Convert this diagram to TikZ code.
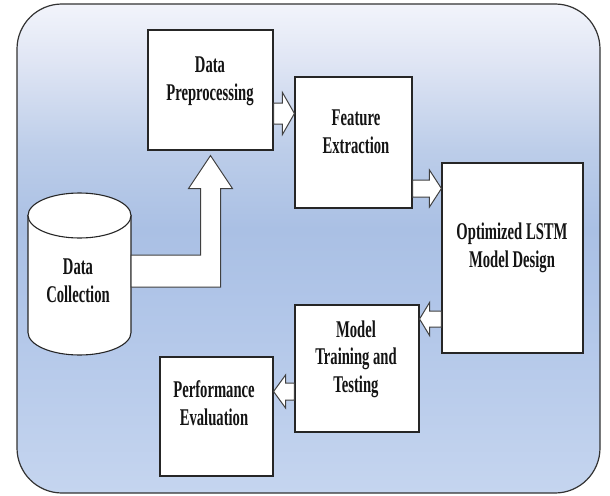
\documentclass[tikz,border=0pt]{standalone}
\usepackage{fontspec}
\newfontfamily\labfont[FakeStretch=0.61]{Liberation Serif}
\usetikzlibrary{calc}
\definecolor{bgA}{HTML}{C5D5EF}
\definecolor{bgB}{HTML}{B0C5E8}
\definecolor{bgC}{HTML}{AAC0E4}
\definecolor{bgD}{HTML}{BCCDE9}
\definecolor{bgE}{HTML}{DFE5F4}
\definecolor{bgF}{HTML}{F2F4FB}
\pgfdeclareverticalshading{bgshade}{100bp}{color(0bp)=(bgA); color(25bp)=(bgA); color(44.6bp)=(bgB); color(52bp)=(bgC); color(60bp)=(bgD); color(69bp)=(bgE); color(75bp)=(bgF); color(100bp)=(bgF)}
\newcommand\rblockarrow[5]{%
  \draw[barrow] ($(#1)+(0,-#3)$) -- ($(#2)+(-#5,-#3)$) -- ($(#2)+(-#5,-#4)$) -- (#2)
     -- ($(#2)+(-#5,#4)$) -- ($(#2)+(-#5,#3)$) -- ($(#1)+(0,#3)$) -- cycle;}
\newcommand\lblockarrow[5]{%
  \draw[barrow] ($(#1)+(0,-#3)$) -- ($(#2)+(#5,-#3)$) -- ($(#2)+(#5,-#4)$) -- (#2)
     -- ($(#2)+(#5,#4)$) -- ($(#2)+(#5,#3)$) -- ($(#1)+(0,#3)$) -- cycle;}
\begin{document}
\begin{tikzpicture}[x=1pt,y=-1pt,
  box/.style={draw=black!85, line width=1.1pt, fill=white, inner sep=0pt},
  lab/.style={font=\labfont\bfseries\fontsize{24}{27.5}\selectfont, align=center, text=black!92, inner sep=0pt, anchor=base},
  barrow/.style={draw=black!75, line width=1pt, fill=white, line join=miter},
  cyl/.style={draw=black!85, line width=1.1pt, fill=white}]
\useasboundingbox (0,0) rectangle (610,495);
\shade[shading=bgshade, rounded corners=45pt] (17,4) rectangle (600,493);
\draw[line width=1.2pt, draw=black!80, rounded corners=45pt] (17,4) rectangle (600,493);

% boxes
\node[box, minimum width=125pt, minimum height=120pt] (dp) at (210.5,90) {};
\node[box, minimum width=117pt, minimum height=131pt] (fe) at (353.5,142.5) {};
\node[box, minimum width=141pt, minimum height=190pt] (lstm) at (512.5,258) {};
\node[box, minimum width=124pt, minimum height=127pt] (mt) at (357,368.5) {};
\node[box, minimum width=113pt, minimum height=119pt] (pe) at (216.5,416.5) {};

% cylinder
\draw[cyl] (28,215.5) -- (28,332.5) arc[start angle=180, end angle=360, x radius=51.5pt, y radius=22.5pt] -- (131,215.5) -- cycle;
\draw[cyl] (79.5,215.5) ellipse[x radius=51.5pt, y radius=22.5pt];
\coordinate (dcR) at (131,271);

% labels (anchored at the baseline of the last line)
\node[lab] (dpt) at (210,100) {Data\\Preprocessing};
\node[lab] (fet) at (356,153) {Feature\\Extraction};
\node[lab] (lstmt) at (512,267) {Optimized LSTM\\Model Design};
\node[lab] (mtt) at (356,392) {Model\\Training and\\Testing};
\node[lab] (pet) at (214,425) {Performance\\Evaluation};
\node[lab] (dc) at (78,302) {Data\\Collection};

% block arrows
\coordinate (a1s) at (dp.east |- 0,113.5);
\coordinate (a1t) at (fe.west |- 0,113.5);
\rblockarrow{a1s}{a1t}{10.5}{21}{12}
\coordinate (a2s) at (fe.east |- 0,188.5);
\coordinate (a2t) at (lstm.west |- 0,188.5);
\rblockarrow{a2s}{a2t}{8.5}{18.5}{12}
\coordinate (a3s) at (lstm.west |- 0,319);
\coordinate (a3t) at (mt.east |- 0,319);
\lblockarrow{a3s}{a3t}{8}{16.5}{10}
\coordinate (a4s) at (mt.west |- 0,391.5);
\coordinate (a4t) at (pe.east |- 0,391.5);
\lblockarrow{a4s}{a4t}{8.5}{16.5}{12}

% elbow arrow from data collection to preprocessing
\coordinate (eTip) at ($(dp.south)+(0,5)$);
\draw[barrow] ($(dcR)+(0,-16)$) -| ($(eTip)+(-10,33)$) -- ($(eTip)+(-22,33)$) -- (eTip)
  -- ($(eTip)+(22,33)$) -- ($(eTip)+(10,33)$) |- ($(dcR)+(0,16)$) -- cycle;
\end{tikzpicture}
\end{document}
